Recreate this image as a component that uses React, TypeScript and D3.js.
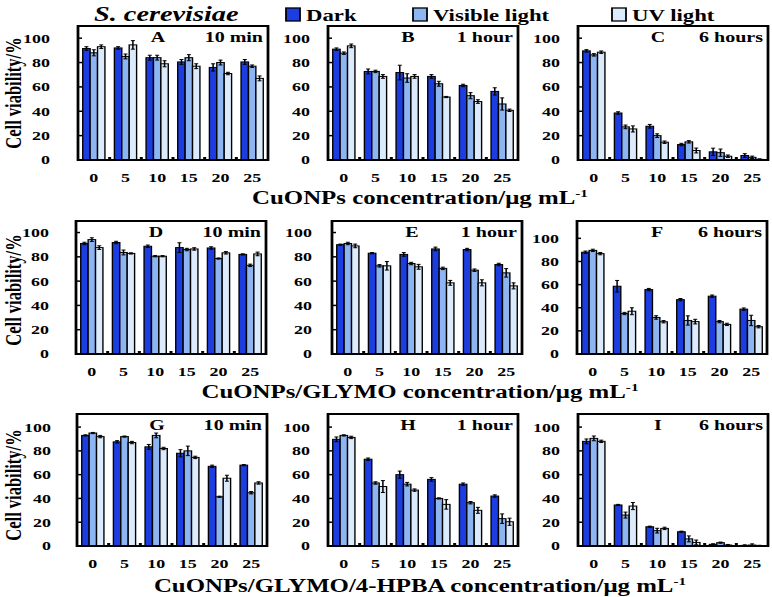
import React from 'react';
import * as d3 from 'd3';

// ---------- data ----------
const concentrations = ['0', '5', '10', '15', '20', '25'];
const seriesNames = ['Dark', 'Visible light', 'UV light'];
const seriesColors = ['#1c3de0', '#8db5f2', '#dcebfb'];
const yTicks = [0, 20, 40, 60, 80, 100];
const panelLetters = ['A', 'B', 'C', 'D', 'E', 'F', 'G', 'H', 'I'];
const panelTimes = ['10 min', '1 hour', '6 hours', '10 min', '1 hour', '6 hours', '10 min', '1 hour', '6 hours'];
const rowTitles = ['CuONPs concentration/μg mL', 'CuONPs/GLYMO concentration/μg mL', 'CuONPs/GLYMO/4-HPBA concentration/μg mL'];
const organism = 'S. cerevisiae';
const yTitle = 'Cell viability/%';

// values [dark, visible, uv] per panel
const darkA = [91.5, 92, 84, 80.5, 76, 80.5];
const visA = [88, 85, 84, 84, 80, 77];
const uvA = [93, 94.5, 79, 77, 71, 67];
const errDarkA = [1.5, 1, 2, 2, 3, 2];
const errVisA = [2.5, 2, 2, 2.5, 2, 1];
const errUvA = [1.5, 3.5, 2.5, 2, 1, 2];

const darkB = [91, 72.7, 71.8, 68.6, 61.2, 56.3];
const visB = [87.7, 72.7, 67.3, 62.6, 52.8, 46];
const uvB = [93.7, 68.6, 68.6, 51.7, 48, 40.8];
const errDarkB = [1, 2, 6, 1.5, 1, 3];
const errVisB = [1, 1, 3.5, 2, 2.5, 5];
const errUvB = [1.5, 1.5, 1.5, 0.5, 1.5, 1];

const darkC = [89.6, 38.6, 27.7, 12.7, 6.7, 3.7];
const visC = [86.3, 27.2, 20, 14.9, 6, 2.2];
const uvC = [88.5, 25.5, 14.6, 7.8, 3.1, 0.5];
const errDarkC = [1, 1, 1.5, 1, 3, 1.5];
const errVisC = [1, 1.5, 1.5, 1, 3, 1];
const errUvC = [1, 2.5, 1, 2, 1, 0.5];

const darkD = [91, 91.8, 88.7, 87.6, 87.3, 82];
const visD = [94.2, 83.6, 80.5, 86, 78.6, 73];
const uvD = [87.6, 82.8, 80.5, 86.5, 83.3, 82.4];
const errDarkD = [1, 1, 1, 4, 1, 0.5];
const errVisD = [1.5, 2, 0.5, 1, 0.5, 1];
const errUvD = [1.5, 0.5, 0.5, 1, 1, 1.5];

const darkE = [90, 83, 82, 86.5, 86, 73.7];
const visE = [91, 72.6, 74.5, 70.5, 69, 66.8];
const uvE = [89, 72.6, 71.8, 58.6, 58.6, 56.1];
const errDarkE = [0.5, 0.5, 1.5, 1.5, 1, 1];
const errVisE = [1, 1, 1, 1, 1, 3.5];
const errUvE = [1.5, 3.5, 2, 2, 2.5, 2.5];

const darkF = [88, 58.6, 55.7, 47, 50, 38.8];
const visF = [89.6, 35, 31.6, 29, 28, 29];
const uvF = [86.8, 37, 27.9, 28, 25.6, 23.6];
const errDarkF = [1, 5, 1, 1, 1, 1];
const errVisF = [1, 1, 1.5, 4, 1, 4.5];
const errUvF = [1, 3, 1, 2, 1, 1];

const darkG = [93, 87.6, 83.4, 78, 67, 68];
const visG = [95, 92, 93, 80, 41.4, 44.8];
const uvG = [92, 87, 82, 74.5, 57, 53];
const errDarkG = [0.5, 1, 2, 3, 1, 0.5];
const errVisG = [0.5, 0.5, 2, 4, 0.5, 1];
const errUvG = [1, 1, 1, 1, 2.5, 1];

const darkH = [89.7, 73, 60, 56, 52, 42];
const visH = [93, 53, 52, 40, 36.4, 23];
const uvH = [91.3, 50, 47, 35, 30, 20.4];
const errDarkH = [2, 1, 3, 1.5, 1, 1];
const errVisH = [0.5, 1, 1.5, 0.5, 1, 4];
const errUvH = [1, 5, 1, 4, 2.5, 3];

const darkI = [88, 34.5, 16.2, 12, 1.4, 0.5];
const visI = [90.5, 26, 12.9, 6, 2.8, 0.8];
const uvI = [88, 33.6, 14.8, 3, 0.8, 0.3];
const errDarkI = [2, 0.5, 0.5, 0.5, 0.5, 0.5];
const errVisI = [2, 2.5, 2, 2.5, 0.5, 1];
const errUvI = [1, 3, 1, 2, 0.5, 0.3];

const panelValues = [
  [darkA, visA, uvA], [darkB, visB, uvB], [darkC, visC, uvC],
  [darkD, visD, uvD], [darkE, visE, uvE], [darkF, visF, uvF],
  [darkG, visG, uvG], [darkH, visH, uvH], [darkI, visI, uvI],
];
const panelErrors = [
  [errDarkA, errVisA, errUvA], [errDarkB, errVisB, errUvB], [errDarkC, errVisC, errUvC],
  [errDarkD, errVisD, errUvD], [errDarkE, errVisE, errUvE], [errDarkF, errVisF, errUvF],
  [errDarkG, errVisG, errUvG], [errDarkH, errVisH, errUvH], [errDarkI, errVisI, errUvI],
];

// ---------- layout (pixel space) ----------
const SX = 1.38; // horizontal stretch of the original figure
const W = 772;
const H = 597;
const X = (px: number) => px / SX;
const FONT = '"Liberation Serif", "Times New Roman", serif';

const frameLeft = [78, 328, 578, 76, 332, 577, 77, 328, 578];
const frameWidth = 190;
const rowTop = [26, 221, 414];
const rowBottom = [160, 354, 546];
const panelMax = [110, 110, 110, 109.5, 109.5, 115, 111, 111, 111];
const tickLabelRight = [50, 310, 560, 49, 312, 559, 51, 310, 560];
const rowTitleY = [204, 398, 592];
const rowTitleX = 420;
const yTitleCenter = [93, 290, 485];

function Panel({ idx }: { idx: number }) {
  const row = Math.floor(idx / 3);
  const left = frameLeft[idx];
  const top = rowTop[row];
  const bottom = rowBottom[row];
  const x0 = d3.scaleBand<string>().domain(concentrations).range([X(left), X(left + frameWidth)]).paddingInner(0).paddingOuter(0);
  const x1 = d3.scaleBand<string>().domain(seriesNames).range([0, x0.bandwidth()]).paddingInner(0).paddingOuter(0.64);
  const y = d3.scaleLinear().domain([0, panelMax[idx]]).range([bottom, top]);
  const vals = panelValues[idx];
  const errs = panelErrors[idx];
  const capHalf = X(2);
  return (
    <g>
      {concentrations.map((c, ci) => (
        <g key={c}>
          {seriesNames.map((s, si) => {
            const v = vals[si][ci];
            const e = errs[si][ci];
            const bx = (x0(c) as number) + (x1(s) as number);
            const bw = x1.bandwidth();
            const cx = bx + bw / 2;
            return (
              <g key={s}>
                <rect x={bx} y={y(v)} width={bw} height={bottom - y(v)} fill={seriesColors[si]} stroke="#000" strokeWidth={1} />
                <line x1={cx} x2={cx} y1={y(Math.max(0, v - e))} y2={y(v + e)} stroke="#000" strokeWidth={1.1} />
                <line x1={cx - capHalf} x2={cx + capHalf} y1={y(v + e)} y2={y(v + e)} stroke="#000" strokeWidth={1} />
                <line x1={cx - capHalf} x2={cx + capHalf} y1={y(Math.max(0, v - e))} y2={y(Math.max(0, v - e))} stroke="#000" strokeWidth={1} />
              </g>
            );
          })}
          {ci > 0 && (
            <rect x={(x0(c) as number) - X(1.5)} y={bottom - 3} width={X(3)} height={3} fill="#000" />
          )}
          <text x={(x0(c) as number) + x0.bandwidth() / 2} y={bottom + 22} textAnchor="middle" fontFamily={FONT} fontWeight="bold" fontSize={13}>{c}</text>
        </g>
      ))}
      {yTicks.map((t) => (
        <g key={t}>
          <line x1={X(left)} x2={X(left + 4)} y1={y(t)} y2={y(t)} stroke="#000" strokeWidth={1.5} />
          <text x={X(tickLabelRight[idx])} y={y(t) + 4.5} textAnchor="end" fontFamily={FONT} fontWeight="bold" fontSize={13}>{t}</text>
        </g>
      ))}
      <rect x={X(left)} y={top} width={X(frameWidth)} height={bottom - top} fill="none" stroke="#000" strokeWidth={2} />
      <text x={X(left + 80)} y={top + 16} textAnchor="middle" fontFamily={FONT} fontWeight="bold" fontSize={14.5}>{panelLetters[idx]}</text>
      <text x={X(left + frameWidth - 5)} y={top + 16} textAnchor="end" fontFamily={FONT} fontWeight="bold" fontSize={14.5}>{panelTimes[idx]}</text>
    </g>
  );
}

export default function App() {
  const legendBoxes = [286, 413, 612];
  return (
    <svg
      width={W}
      height={H}
      viewBox={`0 0 ${W / SX} ${H}`}
      preserveAspectRatio="none"
      style={{ position: 'absolute', left: 0, top: 0, background: '#fff' }}
    >
      <rect x={0} y={0} width={W / SX} height={H} fill="#fff" />
      <text x={X(94)} y={21} fontFamily={FONT} fontWeight="bold" fontStyle="italic" fontSize={20.5}>{organism}</text>
      {seriesNames.map((s, i) => (
        <g key={s}>
          <rect x={X(legendBoxes[i])} y={8} width={X(14)} height={13} fill={seriesColors[i]} stroke="#000" strokeWidth={1.3} />
          <text x={X(legendBoxes[i] + 20)} y={21} fontFamily={FONT} fontWeight="bold" fontSize={16.5}>{s}</text>
        </g>
      ))}
      {panelLetters.map((_, i) => <Panel key={i} idx={i} />)}
      {rowTitles.map((t, r) => (
        <text key={t} x={X(rowTitleX)} y={rowTitleY[r]} textAnchor="middle" fontFamily={FONT} fontWeight="bold" fontSize={18}>
          {t}<tspan dy={-7} fontSize={11}>-1</tspan>
        </text>
      ))}
      {yTitleCenter.map((c, r) => (
        <text key={r} transform={`translate(${X(20.5)},${c}) rotate(-90)`} textAnchor="middle" fontFamily={FONT} fontWeight="bold" fontSize={16.5}>{yTitle}</text>
      ))}
    </svg>
  );
}
